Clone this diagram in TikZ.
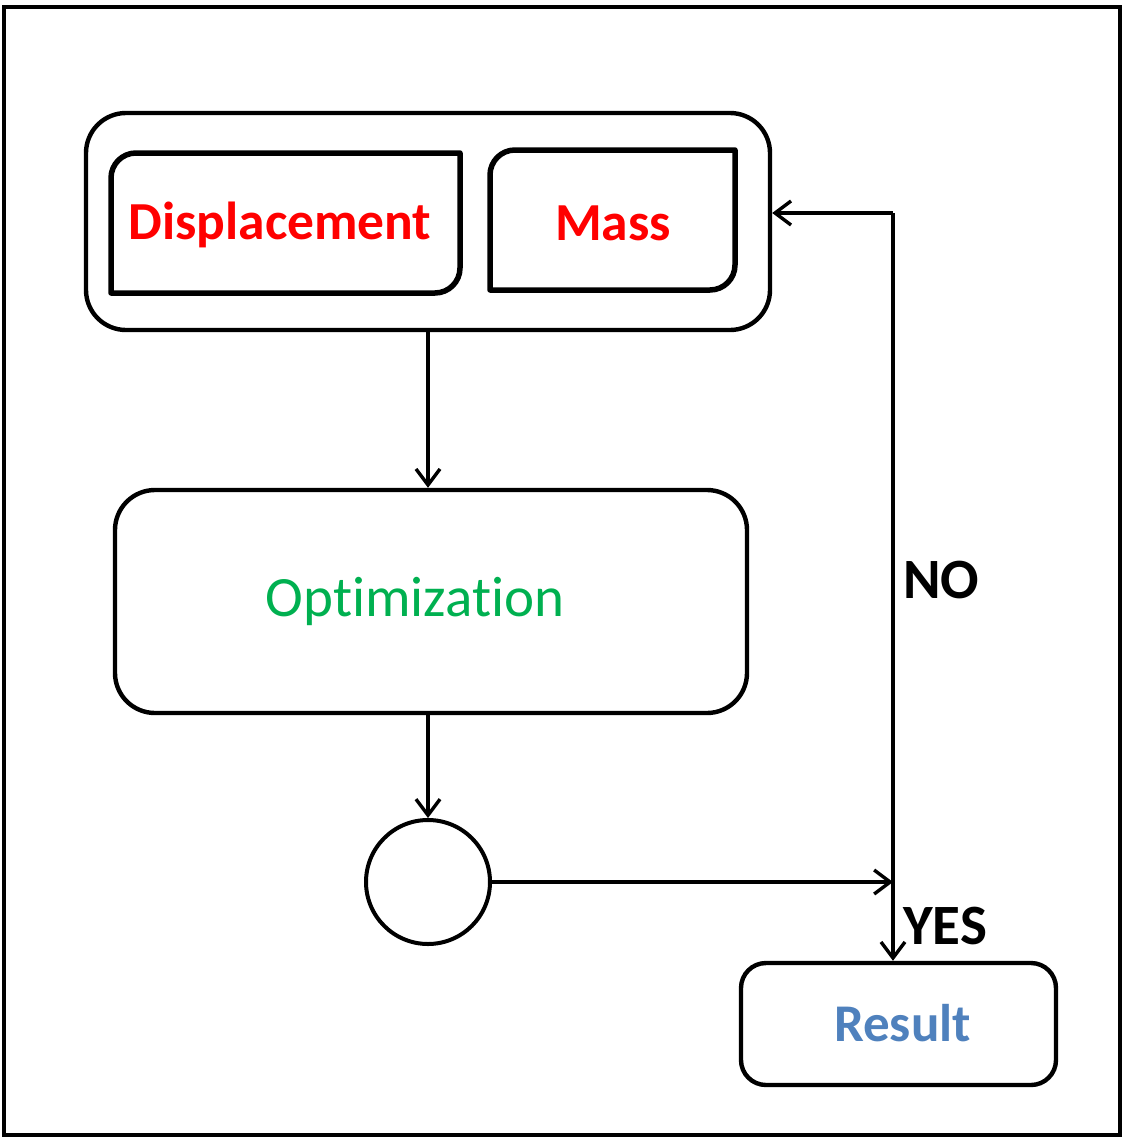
\documentclass[tikz,border=0pt]{standalone}
\usepackage{fontspec}
\setmainfont[Ligatures=NoCommon]{Carlito}
\usetikzlibrary{arrows.meta,calc}
\definecolor{dispred}{RGB}{255,0,0}
\definecolor{optgreen}{RGB}{0,176,80}
\definecolor{resblue}{RGB}{79,129,189}
\tikzset{
  conn/.style={line width=3.4pt,-{Straight Barb[length=16pt,width=24pt]}},
  bigbox/.style={draw,line width=4.4pt,rectangle,inner sep=0pt},
  halfbox/.style={line width=5.5pt,line join=round},
  redtxt/.style={text=dispred,font=\fontsize{53.5}{60}\selectfont\bfseries,inner sep=0pt},
  lbl/.style={font=\fontsize{57}{64}\selectfont\bfseries,inner sep=0pt,anchor=west}
}
\begin{document}
\begin{tikzpicture}[x=1pt,y=-1pt]
\useasboundingbox (0,0) rectangle (1124,1138);
% outer frame
\draw[line width=3.5pt] (4,7) rectangle (1120,1135);
% group container
\node[bigbox,rounded corners=40pt,minimum width=684pt,minimum height=217pt] (group) at (428,221.5) {};
% Displacement box (rounded top-left and bottom-right corners)
\draw[halfbox] (111,293) -- (111,178) .. controls (111,164.2) and (122.2,153) .. (136,153)
  -- (460,153) -- (460,268) .. controls (460,281.8) and (448.8,293) .. (435,293) -- cycle;
\node[redtxt] (disp) at (280,225) {Displacement};
% Mass box
\draw[halfbox] (490,290) -- (490,175) .. controls (490,161.2) and (501.2,150) .. (515,150)
  -- (735,150) -- (735,265) .. controls (735,278.8) and (723.8,290) .. (710,290) -- cycle;
\node[redtxt] (mass) at (613,223) {Mass};
% Optimization
\node[bigbox,rounded corners=40pt,minimum width=632pt,minimum height=223pt,
  text=optgreen,font=\fontsize{57}{64}\selectfont] (opt) at (431,601.5) {\raisebox{4pt}{Optimization}\hspace*{32pt}};
% decision circle
\node[draw,circle,line width=4pt,minimum size=124pt,inner sep=0pt] (dec) at (428,882) {};
% Result
\node[bigbox,rounded corners=25pt,minimum width=315pt,minimum height=122pt,
  text=resblue,font=\fontsize{53}{60}\selectfont\bfseries] (res) at (898.5,1024) {\hspace*{8pt}\raisebox{3pt}{Result}};
% connectors
\coordinate (top) at (893,213);
\coordinate (join) at (893,882);
\draw[conn] (group.south) -- (group.south |- opt.north);
\draw[conn] (dec.north |- opt.south) -- (dec.north);
\draw[conn] (dec.east) -- (join);
\draw[conn] (top) -- (top |- res.north);
\draw[conn] (top) -- (group.east |- top);
% labels
\node[lbl] (no) at (903,580) {NO};
\node[lbl] (yes) at (903,926) {YES};
\end{tikzpicture}
\end{document}
